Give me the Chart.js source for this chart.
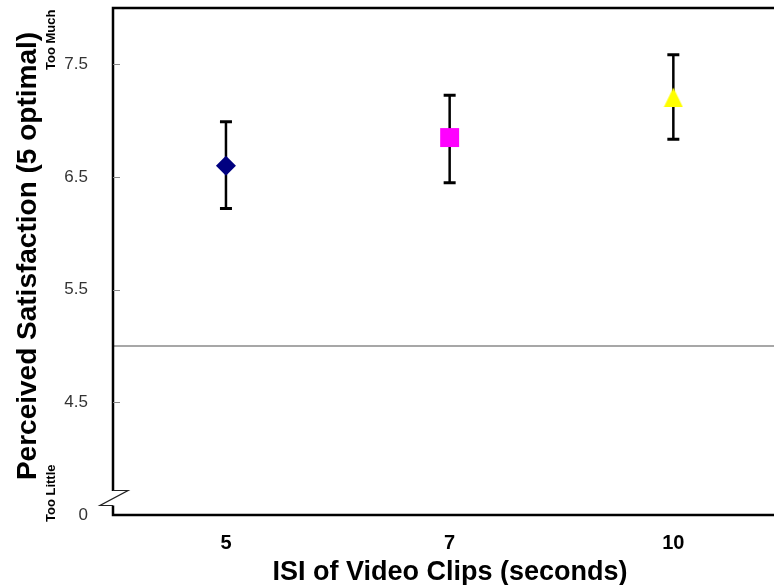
<!DOCTYPE html>
<html>
<head>
<meta charset="utf-8">
<script src="https://cdn.jsdelivr.net/npm/chart.js@4.4.1/dist/chart.umd.min.js"></script>
<style>
    body { margin: 0; background: #fff; }
    canvas { display: block; }
</style>
</head>
<body>
<canvas id="canvas" width="774" height="585"></canvas>
<script>
// data
var isiLabels = ["5", "7", "10"];
var isiPos = [0, 1, 2];
var satMean = [6.60, 6.85, 7.21];
var satLow = [6.22, 6.45, 6.835];
var satHigh = [6.99, 7.225, 7.585];
var yTickValues = [3.5, 4.5, 5.5, 6.5, 7.5];
var yTickLabels = ["0", "4.5", "5.5", "6.5", "7.5"];
var optimalLine = 5;

var sans = "'Liberation Sans', Arial, sans-serif";

// yellow triangle marker
var tri = document.createElement("canvas");
tri.width = 20;
tri.height = 20;
var tctx = tri.getContext("2d");
tctx.fillStyle = "#FFFF00";
tctx.beginPath();
tctx.moveTo(10, 0.5);
tctx.lineTo(19.5, 20);
tctx.lineTo(0.5, 20);
tctx.closePath();
tctx.fill();

var points = isiPos.map(function (x, i) {
    return { x: x, y: satMean[i] };
});

var errorBars = {
    id: "errorBars",
    beforeDatasetsDraw: function (chart) {
        var ctx = chart.ctx, xs = chart.scales.x, ys = chart.scales.y;
        ctx.save();
        ctx.strokeStyle = "#000";
        for (var i = 0; i < isiPos.length; i++) {
            var px = xs.getPixelForValue(isiPos[i]);
            var top = ys.getPixelForValue(satHigh[i]);
            var bot = ys.getPixelForValue(satLow[i]);
            ctx.lineWidth = 2.5;
            ctx.beginPath();
            ctx.moveTo(px, top);
            ctx.lineTo(px, bot);
            ctx.stroke();
            ctx.lineWidth = 3;
            ctx.beginPath();
            ctx.moveTo(px - 6, top);
            ctx.lineTo(px + 6, top);
            ctx.moveTo(px - 6, bot);
            ctx.lineTo(px + 6, bot);
            ctx.stroke();
        }
        ctx.restore();
    }
};

var frame = {
    id: "frame",
    afterDraw: function (chart) {
        var ctx = chart.ctx, a = chart.chartArea, ys = chart.scales.y;
        ctx.save();
        // axes with the break
        ctx.strokeStyle = "#000";
        ctx.lineWidth = 2.5;
        ctx.beginPath();
        ctx.moveTo(a.right, a.top);
        ctx.lineTo(a.left, a.top);
        ctx.lineTo(a.left, a.bottom - 24);
        ctx.moveTo(a.left, a.bottom - 9.5);
        ctx.lineTo(a.left, a.bottom);
        ctx.lineTo(a.right, a.bottom);
        ctx.stroke();

        ctx.lineWidth = 1.2;
        ctx.strokeStyle = "#222";
        ctx.beginPath();
        ctx.moveTo(a.left, a.bottom - 24.5);
        ctx.lineTo(a.left + 15, a.bottom - 24.5);
        ctx.lineTo(a.left - 13, a.bottom - 9.5);
        ctx.lineTo(a.left, a.bottom - 9.5);
        ctx.stroke();

        // small inward ticks
        ctx.strokeStyle = "#888";
        ctx.lineWidth = 1;
        for (var i = 1; i < yTickValues.length; i++) {
            var py = Math.round(ys.getPixelForValue(yTickValues[i])) + 0.5;
            ctx.beginPath();
            ctx.moveTo(a.left, py);
            ctx.lineTo(a.left + 7, py);
            ctx.stroke();
        }

        // axis titles
        ctx.fillStyle = "#000";
        ctx.textAlign = "center";
        ctx.textBaseline = "alphabetic";
        ctx.font = "bold 27px " + sans;
        ctx.fillText("ISI of Video Clips (seconds)", 450, 580);

        ctx.save();
        ctx.translate(36, 256);
        ctx.rotate(-Math.PI / 2);
        ctx.font = "bold 28px " + sans;
        ctx.fillText("Perceived Satisfaction (5 optimal)", 0, 0);
        ctx.restore();

        ctx.font = "bold 13px " + sans;
        ctx.textAlign = "left";
        ctx.save();
        ctx.translate(55, 70);
        ctx.rotate(-Math.PI / 2);
        ctx.fillText("Too Much", 0, 0);
        ctx.restore();
        ctx.save();
        ctx.translate(55, 522);
        ctx.rotate(-Math.PI / 2);
        ctx.fillText("Too Little", 0, 0);
        ctx.restore();
        ctx.restore();
    }
};

window.onload = function () {
    var ctx = document.getElementById("canvas").getContext("2d");
    window.satChart = new Chart(ctx, {
        type: "scatter",
        data: {
            datasets: [{
                label: "Satisfaction",
                data: points,
                pointStyle: ["rectRot", "rect", tri],
                pointRadius: [10, 13.4, 10],
                backgroundColor: ["#000080", "#FF00FF", "#FFFF00"],
                borderWidth: 0,
                order: 1
            }, {
                type: "line",
                label: "optimal",
                data: [{ x: -0.505, y: optimalLine }, { x: 2.45, y: optimalLine }],
                borderColor: "#8a8a8a",
                borderWidth: 1.5,
                pointRadius: 0,
                order: 2
            }]
        },
        options: {
            responsive: false,
            animation: false,
            events: [],
            layout: { autoPadding: false, padding: { top: 8, right: 0, bottom: 0, left: 0 } },
            plugins: {
                legend: { display: false },
                tooltip: { enabled: false }
            },
            scales: {
                x: {
                    type: "linear",
                    min: -0.505,
                    max: 2.45,
                    grid: { display: false },
                    border: { display: false },
                    afterBuildTicks: function (scale) {
                        scale.ticks = isiPos.map(function (v) { return { value: v }; });
                    },
                    afterFit: function (scale) {
                        scale.height = 70;
                        scale.paddingLeft = 0;
                        scale.paddingRight = 0;
                    },
                    ticks: {
                        autoSkip: false,
                        maxRotation: 0,
                        padding: 8,
                        color: "#000",
                        font: { family: sans, size: 20, weight: "bold" },
                        callback: function (v, i) { return isiLabels[i]; }
                    }
                },
                y: {
                    min: 3.5,
                    max: 8.0,
                    grid: { display: false },
                    border: { display: false },
                    afterBuildTicks: function (scale) {
                        scale.ticks = yTickValues.map(function (v) { return { value: v }; });
                    },
                    afterFit: function (scale) {
                        scale.width = 113;
                        scale.paddingTop = 0;
                        scale.paddingBottom = 0;
                    },
                    ticks: {
                        autoSkip: false,
                        padding: 17,
                        color: "#333",
                        font: { family: sans, size: 17 },
                        callback: function (v, i) { return yTickLabels[i]; }
                    }
                }
            }
        },
        plugins: [errorBars, frame]
    });
};
</script>
</body>
</html>
